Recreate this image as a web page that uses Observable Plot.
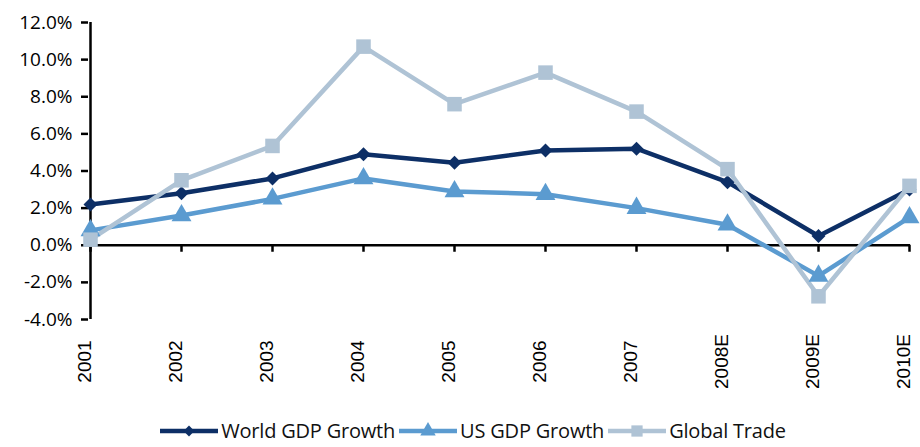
<!DOCTYPE html>
<html>
<head>
<meta charset="utf-8">
<script src="https://cdn.jsdelivr.net/npm/d3@7"></script>
<script src="https://cdn.jsdelivr.net/npm/@observablehq/plot@0.6"></script>
<style>
  body { margin: 0; background: #fff; }
  #chart { width: 920px; }
  .legend { display: flex; justify-content: center; align-items: center; height: 26px; margin-top: 13px;
    font-family: "Open Sans", sans-serif; font-size: 20px; line-height: 26px; color: #111; padding-left: 26px; letter-spacing: -0.2px; }
  .legend .item { display: flex; align-items: center; margin: 0 2px; }
  .legend svg { margin-right: 3px; }
</style>
</head>
<body>
<div id="chart"></div>
<script>
const years = ["2001","2002","2003","2004","2005","2006","2007","2008E","2009E","2010E"];
const worldGDP = [2.2, 2.8, 3.6, 4.9, 4.45, 5.1, 5.2, 3.4, 0.5, 3.0];
const usGDP = [0.8, 1.6, 2.5, 3.6, 2.9, 2.75, 2.0, 1.1, -1.65, 1.5];
const globalTrade = [0.3, 3.5, 5.35, 10.7, 7.6, 9.3, 7.2, 4.1, -2.75, 3.2];
const yTicks = [-4, -2, 0, 2, 4, 6, 8, 10, 12];
const seriesNames = ["World GDP Growth", "US GDP Growth", "Global Trade"];
const seriesColors = ["#0d2f66", "#5b9bd0", "#afc3d5"];
const seriesSymbols = ["diamond2", "triangle", "square"];
const seriesR = [6.3, 7.4, 8.2];

const seriesValues = [worldGDP, usGDP, globalTrade];
const rows = [];
seriesNames.forEach((name, si) => {
  years.forEach((yr, i) => rows.push({series: name, year: yr, value: seriesValues[si][i], si}));
});

const lineMarks = seriesNames.map((name, si) =>
  Plot.line(rows.filter(d => d.si === si), {x: "year", y: "value", stroke: seriesColors[si], strokeWidth: 4.5, strokeLinejoin: "miter"})
);
const dotMarks = seriesNames.map((name, si) =>
  Plot.dot(rows.filter(d => d.si === si), {x: "year", y: "value", fill: seriesColors[si], symbol: seriesSymbols[si], r: seriesR[si]})
);

const chart = Plot.plot({
  width: 920,
  height: 405,
  marginLeft: 88,
  marginRight: 10,
  marginTop: 22,
  marginBottom: 86,
  style: {fontFamily: "Open Sans, sans-serif", fontSize: "19px", color: "#000", background: "#fff"},
  x: {type: "point", domain: years, padding: 0, axis: null},
  y: {domain: [-4, 12], ticks: yTicks, tickFormat: d => d.toFixed(1) + "%", label: null},
  marks: [
    Plot.axisY({ticks: yTicks, tickFormat: d => d.toFixed(1) + "%", tickSize: 7, tickPadding: 9, strokeWidth: 2.5, stroke: "#000", label: null, fontSize: 19, fill: "#000"}),
    Plot.ruleX([0], {x: () => years[0], strokeWidth: 2.5, stroke: "#000"}),
    Plot.ruleY([0], {stroke: "#000", strokeWidth: 2.5}),
    Plot.ruleX(years, {x: d => d, y1: 0, y2: 0, insetBottom: -7, stroke: "#000", strokeWidth: 2.5}),
    Plot.text(years, {x: d => d, frameAnchor: "bottom", rotate: -90, dy: 42, textAnchor: "middle", fontFamily: "Liberation Sans, Arial, sans-serif", fontSize: 19, fill: "#000"}),
    ...lineMarks,
    ...dotMarks
  ]
});
document.getElementById("chart").appendChild(chart);

const legend = document.createElement("div");
legend.className = "legend";
const symGen = {diamond2: d3.symbolDiamond2, triangle: d3.symbolTriangle, square: d3.symbolSquare};
seriesNames.forEach((name, si) => {
  const item = document.createElement("div");
  item.className = "item";
  const area = Math.PI * seriesR[si] * seriesR[si] * 0.6;
  const path = d3.symbol(symGen[seriesSymbols[si]], area)();
  item.innerHTML = `<svg width="58" height="20"><line x1="0" x2="58" y1="10" y2="10" stroke="${seriesColors[si]}" stroke-width="4.5"/><path transform="translate(29,10)" d="${path}" fill="${seriesColors[si]}"/></svg><span>${name}</span>`;
  legend.appendChild(item);
});
document.getElementById("chart").appendChild(legend);
</script>
</body>
</html>
